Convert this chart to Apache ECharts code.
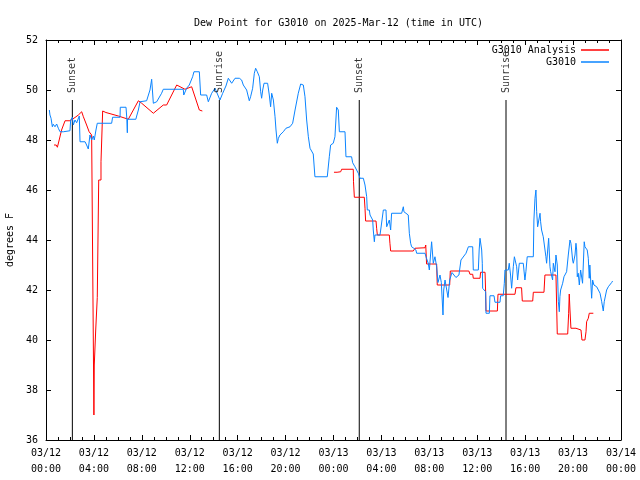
<!DOCTYPE html>
<html><head><meta charset="utf-8">
<script src="https://cdn.jsdelivr.net/npm/echarts@6/dist/echarts.min.js"></script>
<style>html,body{margin:0;padding:0;background:#fff}#c{width:640px;height:480px}</style>
</head><body><div id="c"></div>
<script>
const FONT = 'DejaVu Sans Mono';
const titleText = 'Dew Point for G3010 on 2025-Mar-12 (time in UTC)';
const yAxisName = 'degrees F';
const xTickLabels = ['03/12\n00:00','03/12\n04:00','03/12\n08:00','03/12\n12:00','03/12\n16:00','03/12\n20:00',
  '03/13\n00:00','03/13\n04:00','03/13\n08:00','03/13\n12:00','03/13\n16:00','03/13\n20:00','03/14\n00:00'];
const yRange = [36, 52];
const seriesNames = ['G3010 Analysis', 'G3010'];
// hours since 03/12 00:00 UTC, dew point in F
const analysisData = [
  [0.67,47.8],[0.85,47.8],[0.95,47.71],[1.1,48.0],[1.3,48.4],[1.59,48.77],[2.0,48.77],[2.14,48.85],[2.42,48.9],[2.7,49.0],[2.98,49.13],
  [3.12,48.93],[3.39,48.6],[3.6,48.33],[3.81,48.2],[3.95,48.2],[4.0,37.0],[4.03,37.0],[4.03,39.0],[4.15,39.0],[4.15,40.4],
  [4.28,40.4],[4.28,41.7],[4.4,41.7],[4.4,46.4],[4.59,46.4],[4.59,47.13],[4.73,47.13],[4.73,49.16],[5.0,49.1],[6.04,48.96],
  [6.87,48.83],[7.71,49.57],[7.99,49.47],[8.96,49.07],[9.79,49.4],[10.07,49.4],[10.91,50.2],[11.05,50.13],[11.6,50.03],
  [12.16,50.13],[12.8,49.2],[13.05,49.16],
  null,
  [24.04,46.71],[24.3,46.71],[24.4,46.73],[24.6,46.73],[24.68,46.83],[25.65,46.83],[25.67,46.33],[25.74,45.71],[26.57,45.71],
  [26.63,45.27],[26.68,44.76],[27.55,44.76],[27.6,44.47],[27.66,44.2],[28.66,44.2],[28.71,43.87],[28.77,43.56],[30.66,43.56],
  [30.8,43.67],[31.64,43.69],[31.7,43.8],[31.77,43.04],[32.19,43.04],[32.61,43.04],[32.66,42.2],[33.7,42.2],[33.75,42.76],
  [35.3,42.76],[35.39,42.63],[35.62,42.63],[35.67,42.47],[36.23,42.47],[36.28,42.71],[36.65,42.71],[36.7,41.93],[36.73,41.16],
  [37.68,41.16],[37.73,41.83],[39.15,41.83],[39.23,42.09],[39.7,42.09],[39.76,41.56],[40.63,41.56],[40.68,41.91],[41.57,41.91],
  [41.65,42.6],[42.57,42.6],[42.68,40.24],[43.55,40.24],[43.63,41.07],[43.68,41.84],[43.74,41.2],[43.82,40.47],[44.24,40.47],
  [44.29,40.4],[44.66,40.4],[44.74,40.0],[44.99,40.0],[45.08,40.33],[45.13,40.73],[45.27,40.87],[45.35,41.07],[45.69,41.07]
];
const g3010Data = [
  [0.28,49.2],[0.33,49.0],[0.42,48.87],[0.53,48.53],[0.61,48.63],[0.75,48.53],[0.89,48.64],[1.03,48.47],[1.17,48.33],[1.45,48.33],
  [2.0,48.37],[2.06,48.8],[2.2,48.91],[2.28,48.6],[2.42,48.8],[2.56,48.69],[2.78,48.96],[2.84,47.93],[3.26,47.93],[3.39,47.8],
  [3.53,47.64],[3.67,48.2],[3.81,48.0],[3.95,48.16],[4.03,48.0],[4.17,48.4],[4.28,48.67],[5.48,48.67],[5.56,48.91],[6.18,48.91],
  [6.2,49.31],[6.68,49.31],[6.75,48.83],[6.79,48.29],[6.8,48.83],[7.5,48.83],[7.57,48.96],[7.71,49.2],[7.85,49.53],[8.4,49.57],
  [8.68,50.0],[8.82,50.43],[8.96,49.47],[9.24,49.53],[9.65,49.87],[9.79,50.03],[11.46,50.03],[11.5,49.8],[11.6,49.8],[11.74,50.07],
  [11.96,50.2],[12.24,50.53],[12.35,50.73],[12.8,50.73],[12.91,49.8],[13.41,49.8],[13.55,49.53],[13.83,49.87],[14.11,50.07],
  [14.25,50.11],[14.52,49.6],[14.75,49.87],[15.02,50.16],[15.22,50.47],[15.5,50.27],[15.78,50.47],[16.14,50.47],
  [16.33,50.4],[16.47,50.2],[16.75,50.0],[16.97,49.57],[17.08,49.73],[17.25,50.07],[17.39,50.67],[17.5,50.87],[17.64,50.73],
  [17.81,50.53],[17.92,49.93],[18.0,49.67],[18.09,50.0],[18.2,50.27],[18.5,50.27],[18.64,49.8],[18.75,49.33],[18.84,49.87],
  [18.98,49.6],[19.12,48.93],[19.2,48.4],[19.31,47.87],[19.4,48.07],[19.53,48.2],[19.81,48.33],[20.03,48.47],[20.37,48.53],
  [20.59,48.67],[20.79,49.2],[21.06,49.87],[21.26,50.24],[21.48,50.2],[21.62,49.73],[21.76,48.8],[21.9,48.13],[22.04,47.67],
  [22.18,47.73],[22.31,47.44],[22.45,46.53],[23.48,46.53],[23.65,47.33],[23.76,47.8],[23.98,47.87],[24.12,48.13],[24.26,49.31],
  [24.4,49.2],[24.49,48.33],[24.96,48.33],[25.04,47.33],[25.51,47.33],[25.6,47.09],[25.79,46.93],[25.93,46.8],[26.07,46.67],
  [26.21,46.47],[26.49,46.47],[26.63,46.2],[26.77,45.73],[26.82,45.2],[26.99,45.2],[27.05,45.0],[27.27,44.8],[27.32,44.4],
  [27.41,43.93],[27.46,44.2],[27.88,44.2],[27.94,44.4],[28.16,45.2],[28.38,45.2],[28.44,44.53],[28.57,44.6],[28.66,44.8],
  [28.77,44.4],[28.85,45.07],[29.69,45.07],[29.83,45.33],[29.88,45.13],[30.24,45.0],[30.33,44.27],[30.44,43.87],[30.52,43.73],
  [30.7,43.67],[30.88,43.6],[30.94,43.47],[31.64,43.47],[31.72,43.33],[31.91,43.07],[32.0,42.8],[32.19,43.93],[32.33,43.07],
  [32.47,43.33],[32.61,42.93],[32.72,42.3],[32.89,42.6],[33.0,42.3],[33.14,41.0],[33.2,42.0],[33.31,42.4],[33.56,41.7],
  [33.7,42.4],[33.89,42.7],[34.22,42.5],[34.47,42.6],[34.64,43.2],[35.06,43.47],[35.26,43.73],[35.62,43.73],[35.67,42.8],
  [36.09,42.8],[36.16,43.6],[36.23,44.07],[36.37,43.6],[36.42,43.07],[36.45,42.07],[36.7,41.93],[36.73,41.07],[37.01,41.07],
  [37.06,41.77],[37.4,41.77],[37.48,41.51],[37.9,41.51],[37.95,41.77],[38.17,41.77],[38.26,42.27],[38.31,42.8],[38.59,42.8],
  [38.67,43.07],[38.78,42.6],[38.87,42.07],[38.95,42.07],[39.01,42.93],[39.1,43.33],[39.24,43.27],[39.29,42.93],[39.37,42.4],
  [39.51,43.07],[39.62,43.13],[39.84,43.07],[39.98,42.4],[40.06,42.73],[40.17,43.33],[40.68,43.33],[40.73,44.8],[40.82,45.67],
  [40.9,46.0],[40.96,45.13],[41.04,44.53],[41.1,44.6],[41.18,44.47],[41.24,45.07],[41.29,44.73],[41.37,44.4],[41.51,44.13],
  [41.65,44.07],[41.73,43.33],[41.79,43.07],[41.85,43.0],[41.96,44.07],[42.07,42.93],[42.13,42.73],[42.21,42.67],[42.29,42.4],
  [42.35,43.07],[42.4,43.0],[42.49,42.73],[42.57,43.4],[42.68,43.0],[42.77,41.53],[42.85,41.13],[42.9,41.73],[42.96,42.0],
  [43.13,42.27],[43.24,42.53],[43.32,42.6],[43.46,42.73],[43.6,43.4],[43.68,43.33],[43.74,44.0],[43.82,43.87],[43.88,43.6],
  [43.96,43.2],[44.02,43.07],[44.16,43.4],[44.24,43.87],[44.3,43.6],[44.35,42.53],[44.43,42.67],[44.52,42.2],[44.63,42.8],
  [44.71,42.8],[44.79,42.27],[44.85,42.33],[44.93,43.93],[44.99,43.73],[45.07,43.67],[45.13,43.73],[45.18,43.6],[45.27,43.27],
  [45.35,42.47],[45.4,43.0],[45.46,42.93],[45.55,41.67],[45.63,42.4],[45.74,42.2],[45.82,42.27],[45.97,42.13],[46.11,42.0],
  [46.25,41.87],[46.39,41.53],[46.52,41.16],[46.6,41.53],[46.66,41.6],[46.8,42.0],[46.94,42.13],[47.08,42.2],[47.22,42.3],[47.3,42.36]
];
const sunNames = ['Sunset', 'Sunrise', 'Sunset', 'Sunrise'];
const sunHours = [2.2, 14.47, 26.15, 38.4];
const sunLineTop = 49.6;

const chart = echarts.init(document.getElementById('c'), null, {renderer: 'canvas'});
const txt = {fontFamily: FONT, fontSize: 10, color: '#000'};
const axisX = (pos, showLabel) => ({
  type: 'value', position: pos, min: 0, max: 48, interval: 4,
  axisLine: {show: true, onZero: false, lineStyle: {color: '#000', width: 1}},
  axisTick: {show: true, inside: true, length: 5, lineStyle: {color: '#000'}},
  minorTick: {show: true, splitNumber: 4, length: 3, lineStyle: {color: '#000'}},
  splitLine: {show: false},
  axisLabel: showLabel ? Object.assign({margin: 5, lineHeight: 16, formatter: v => xTickLabels[Math.round(v / 4)]}, txt) : {show: false}
});
const axisY = (pos, showLabel) => ({
  type: 'value', position: pos, min: yRange[0], max: yRange[1], interval: 2,
  name: showLabel ? yAxisName : '', nameLocation: 'middle', nameGap: 31, nameRotate: 90,
  nameTextStyle: txt,
  axisLine: {show: true, onZero: false, lineStyle: {color: '#000', width: 1}},
  axisTick: {show: true, inside: true, length: 5, lineStyle: {color: '#000'}},
  splitLine: {show: false},
  axisLabel: showLabel ? Object.assign({margin: 8}, txt) : {show: false}
});

const series = [
  {name: seriesNames[0], type: 'line', data: analysisData, symbol: 'none', connectNulls: false,
   lineStyle: {color: '#ff0000', width: 1}, itemStyle: {color: '#ff0000'}, animation: false, z: 3},
  {name: seriesNames[1], type: 'line', data: g3010Data, symbol: 'none',
   lineStyle: {color: '#0a84ff', width: 1}, itemStyle: {color: '#0a84ff'}, animation: false, z: 4}
];
sunHours.forEach((h, i) => {
  series.push({type: 'line', data: [[h, yRange[0]], [h, sunLineTop]], symbol: 'none', silent: true, animation: false,
    lineStyle: {color: '#000', width: 1}, z: 2});
});
series.push({type: 'scatter', symbolSize: 0, silent: true, animation: false, z: 5,
  data: sunHours.map((h, i) => ({value: [h, sunLineTop], name: sunNames[i]})),
  label: Object.assign({show: true, formatter: '{b}', position: 'top', distance: 7, rotate: 90, align: 'left', verticalAlign: 'middle'}, txt)
});

chart.setOption({
  backgroundColor: '#fff',
  animation: false,
  title: {text: titleText, left: 189, top: 13, textStyle: Object.assign({fontWeight: 'normal'}, txt)},
  grid: {left: 46, right: 19, top: 40, bottom: 40, containLabel: false, outerBoundsMode: 'none'},
  legend: {data: seriesNames, orient: 'vertical', align: 'right', right: 26, top: 42, itemWidth: 28, itemHeight: 1.5, itemGap: 2,
    padding: [3, 5, 3, 5], icon: 'rect', textStyle: txt},
  xAxis: [axisX('bottom', true), axisX('top', false)],
  yAxis: [axisY('left', true), axisY('right', false)],
  series: series
});
</script></body></html>
